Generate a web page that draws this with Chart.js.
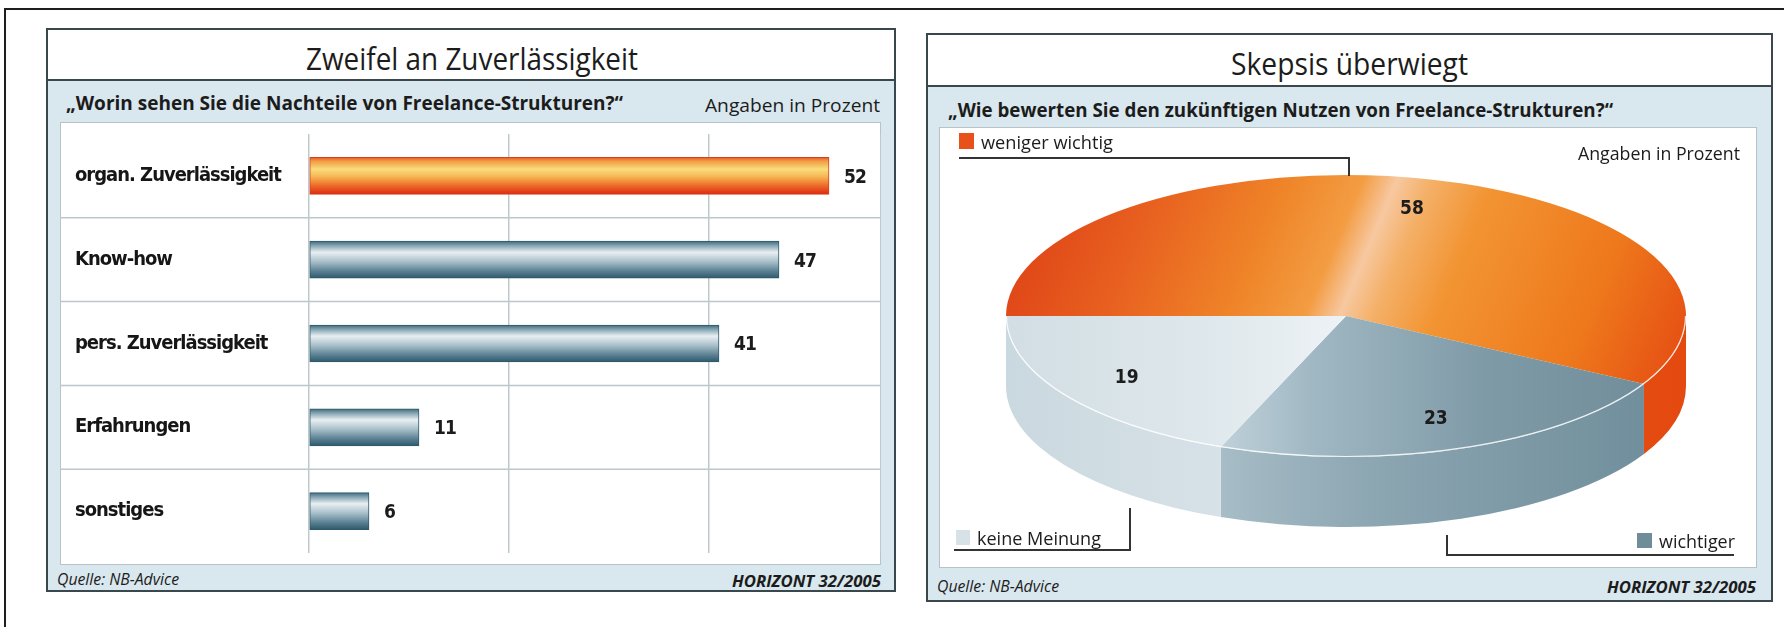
<!DOCTYPE html>
<html>
<head>
<meta charset="utf-8">
<script src="https://cdn.jsdelivr.net/npm/chart.js@4.4.1/dist/chart.umd.min.js"></script>
<style>
  html, body { margin: 0; padding: 0; background: #fff; }
  body { width: 1784px; height: 627px; position: relative; overflow: hidden; font-family: "Open Sans", sans-serif; color: #1c1c1c; }
  .a { position: absolute; box-sizing: border-box; }
  .panel { border: 2px solid #3a484e; background: #d9e7ee; }
  .head { background: #fff; border-bottom: 2px solid #3a484e; }
  .box { background: #fff; border: 1.5px solid #b7c3c8; }
  .t { position: absolute; white-space: nowrap; line-height: 1; }
</style>
</head>
<body>
<div class="a" style="left:5px;top:8px;width:1779px;height:2px;background:#1e1e1e"></div>
<div class="a" style="left:4px;top:8px;width:2px;height:619px;background:#1e1e1e"></div>

<div class="a panel" style="left:46px;top:28px;width:850px;height:564px"></div>
<div class="a head" style="left:48px;top:30px;width:846px;height:51px"></div>
<div class="a box" style="left:60px;top:122px;width:821px;height:443px"></div>
<div class="a" style="left:60px;top:122px;width:821px;height:443px"><canvas id="bars"></canvas></div>

<div class="a panel" style="left:926px;top:33px;width:847px;height:569px"></div>
<div class="a head" style="left:928px;top:35px;width:843px;height:52px"></div>
<div class="a box" style="left:939px;top:127px;width:818px;height:441px"></div>
<div class="a" style="left:939px;top:127px;width:818px;height:441px"><canvas id="pie"></canvas></div>

<script>
// left chart: "Worin sehen Sie die Nachteile von Freelance-Strukturen?"
const barCategories = ['organ. Zuverlässigkeit', 'Know-how', 'pers. Zuverlässigkeit', 'Erfahrungen', 'sonstiges'];
const barValues = [52, 47, 41, 11, 6];
const barAxisMax = 57.2;
const barGridStep = 20;

// right chart: "Wie bewerten Sie den zukünftigen Nutzen von Freelance-Strukturen?"
const pieCategories = ['weniger wichtig', 'wichtiger', 'keine Meinung'];
const pieValues = [58, 23, 19];

// pick a narrow font for the text Chart.js draws
function hasFont(name) {
  const c = document.createElement('canvas').getContext('2d');
  const s = 'organ. Zuverlässigkeit 0123';
  c.font = 'bold 40px monospace';
  const a = c.measureText(s).width;
  c.font = `bold 40px "${name}", monospace`;
  return c.measureText(s).width !== a;
}
const narrow = ['Liberation Sans Narrow', 'DejaVu Sans Condensed', 'Roboto', 'Open Sans'].find(hasFont) || 'sans-serif';
const squeeze = 1; // px taken off between letters of canvas text
const probe = document.createElement('canvas').getContext('2d');
probe.font = `bold 20px "${narrow}"`;
const perPx = probe.measureText(barCategories[0]).width / 20;
let catSize = (206 + squeeze * barCategories[0].length) / perPx;
catSize = Math.max(15, Math.min(22, catSize));

// html text squeezed to the width it has in the print
function text(str, x, y, w, size, weight, style, align) {
  const el = document.createElement('div');
  el.className = 't';
  el.textContent = str;
  el.style.font = `${style || 'normal'} ${weight} ${size}px "Open Sans"`;
  document.body.appendChild(el);
  const nat = el.getBoundingClientRect().width;
  const h = el.offsetHeight;
  const left = align === 'right' ? x - w : align === 'center' ? x - w / 2 : x;
  el.style.left = left + 'px';
  el.style.top = (y - h / 2) + 'px';
  el.style.transformOrigin = '0 50%';
  el.style.transform = `scaleX(${w / nat})`;
}
function block(x, y, w, h, color) {
  const d = document.createElement('div');
  d.className = 'a';
  d.style.cssText += `left:${x}px;top:${y}px;width:${w}px;height:${h}px;background:${color};`;
  document.body.appendChild(d);
}

text('Zweifel an Zuverlässigkeit', 472, 58, 332, 31, 400, 'normal', 'center');
text('„Worin sehen Sie die Nachteile von Freelance-Strukturen?“', 66, 103, 557, 19, 700);
text('Angaben in Prozent', 880, 105, 175, 19, 400, 'normal', 'right');
text('Quelle: NB-Advice', 57, 578, 122, 17, 400, 'italic');
text('HORIZONT 32/2005', 881, 581, 149, 16, 700, 'italic', 'right');

text('Skepsis überwiegt', 1349, 63, 237, 31, 400, 'normal', 'center');
text('„Wie bewerten Sie den zukünftigen Nutzen von Freelance-Strukturen?“', 948, 110, 665, 19, 700);
text('Angaben in Prozent', 1740, 153, 162, 18, 400, 'normal', 'right');
text('Quelle: NB-Advice', 937, 585, 122, 17, 400, 'italic');
text('HORIZONT 32/2005', 1756, 587, 149, 16, 700, 'italic', 'right');

// pie legend with its callout lines
const pieKeyColors = ['#e8521a', '#6f8c99', '#d6e2e8'];
block(959, 133, 15, 16, pieKeyColors[0]);
text(pieCategories[0], 981, 142, 132, 19, 400);
block(959, 157, 391, 2, '#333'); block(1348, 157, 2, 19, '#333');
block(1637, 533, 15, 15, pieKeyColors[1]);
text(pieCategories[1], 1659, 541, 76, 19, 400);
block(1447, 554, 287, 2, '#333'); block(1446, 535, 2, 21, '#333');
block(956, 530, 14, 15, pieKeyColors[2]);
text(pieCategories[2], 977, 538, 124, 19, 400);
block(954, 549, 177, 2, '#333'); block(1129, 508, 2, 43, '#333');

// ---------- bar chart ----------
function barFill(c) {
  const chart = c.chart;
  if (!chart.chartArea) return '#7fa0ae';
  const y = chart.scales.y.getPixelForValue(c.dataIndex);
  const g = chart.ctx.createLinearGradient(0, y - 18.5, 0, y + 18.5);
  if (c.dataIndex === 0) {
    g.addColorStop(0, '#e65a2a');
    g.addColorStop(0.1, '#f29c42');
    g.addColorStop(0.32, '#f9dc7c');
    g.addColorStop(0.52, '#f6b654');
    g.addColorStop(0.75, '#ee6e2a');
    g.addColorStop(1, '#dc2812');
  } else {
    g.addColorStop(0, '#3d6a7e');
    g.addColorStop(0.12, '#86a5b2');
    g.addColorStop(0.3, '#e8eff2');
    g.addColorStop(0.55, '#a9c0ca');
    g.addColorStop(0.8, '#5d8395');
    g.addColorStop(1, '#2d586b');
  }
  return g;
}

const tightText = {
  id: 'tightText',
  beforeDraw(chart) { chart.ctx.letterSpacing = `-${squeeze}px`; },
  afterDraw(chart) { chart.ctx.letterSpacing = '0px'; }
};

const rowLines = {
  id: 'rowLines',
  beforeDatasetsDraw(chart) {
    const y = chart.scales.y, ctx = chart.ctx;
    ctx.save();
    ctx.strokeStyle = '#bdc7cb';
    ctx.lineWidth = 1.5;
    for (let i = 0; i < barCategories.length - 1; i++) {
      const py = (y.getPixelForValue(i) + y.getPixelForValue(i + 1)) / 2;
      ctx.beginPath();
      ctx.moveTo(0, py);
      ctx.lineTo(chart.width, py);
      ctx.stroke();
    }
    ctx.restore();
  }
};

const valueLabels = {
  id: 'valueLabels',
  afterDatasetsDraw(chart) {
    const ctx = chart.ctx;
    ctx.save();
    ctx.fillStyle = '#1c1c1c';
    ctx.font = `bold 19px "${narrow}"`;
    ctx.textBaseline = 'middle';
    chart.getDatasetMeta(0).data.forEach((bar, i) => {
      ctx.fillText(String(barValues[i]), bar.x + 15, bar.y + 2);
    });
    ctx.restore();
  }
};

new Chart(document.getElementById('bars'), {
  type: 'bar',
  data: {
    labels: barCategories,
    datasets: [{
      data: barValues,
      backgroundColor: barFill,
      borderColor: (c) => c.dataIndex === 0 ? '#d8401c' : '#2f5a6c',
      borderWidth: 1,
      borderSkipped: false,
      barThickness: 37
    }]
  },
  options: {
    indexAxis: 'y',
    responsive: true,
    maintainAspectRatio: false,
    animation: false,
    layout: { padding: { left: 15, right: 0, top: 0, bottom: 0 } },
    plugins: { legend: { display: false }, tooltip: { enabled: false } },
    scales: {
      x: {
        min: 0,
        max: barAxisMax,
        ticks: { stepSize: barGridStep, display: false },
        grid: { color: '#bfc9cd', lineWidth: 1.5, drawTicks: false },
        border: { display: false }
      },
      y: {
        grid: { display: false },
        border: { display: false },
        ticks: { crossAlign: 'far', padding: 0, color: '#161616', font: { family: narrow, weight: 'bold', size: catSize } },
        afterFit(scale) { scale.width = 234; }
      }
    }
  },
  plugins: [tightText, rowLines, valueLabels]
});

// ---------- 3d pie ----------
const tilt = 141 / 340;
const depth = 70;
const R = 340;

function stops(g, list) { list.forEach(([o, c]) => g.addColorStop(o, c)); return g; }
const topStops = [
  [[0, '#e04818'], [0.15, '#e86020'], [0.33, '#ef8428'], [0.44, '#f39c42'], [0.49, '#f7c8a0'], [0.54, '#f4b068'], [0.63, '#f29432'], [0.85, '#ee781c'], [1, '#e65214']],
  [[0, '#cbdae1'], [0.3, '#c2d3db'], [0.45, '#a0b8c3'], [0.7, '#809ba8'], [1, '#6e8b98']],
  [[0, '#d2dee4'], [0.3, '#dfe8ec'], [0.5, '#edf2f5'], [0.56, '#f4f7f8'], [1, '#f4f7f8']]
];
const sideStops = [
  [[0, '#ec5e16'], [1, '#e44a10']],
  [[0, '#b3c6cf'], [0.32, '#a6bcc6'], [0.55, '#8ba5b1'], [1, '#6d8b99']],
  [[0, '#cad8df'], [0.35, '#d8e3e8'], [0.62, '#eef3f5'], [1, '#eef3f5']]
];

// gradients are built in the squashed space, tilted so the highlight runs diagonally
function pieFill(c) {
  const chart = c.chart;
  if (!chart.chartArea) return pieKeyColors[c.dataIndex];
  const cx = (chart.chartArea.left + chart.chartArea.right) / 2;
  const cy = (chart.chartArea.top + chart.chartArea.bottom) / 2;
  const dx = R * 0.985, dy = c.dataIndex === 0 ? R * 0.174 : 0;
  return stops(chart.ctx.createLinearGradient(cx - dx, cy - dy, cx + dx, cy + dy), topStops[c.dataIndex]);
}

const pie3d = {
  id: 'pie3d',
  beforeDatasetsDraw(chart) {
    const ctx = chart.ctx;
    const arcs = chart.getDatasetMeta(0).data;
    const cx = arcs[0].x, cy = arcs[0].y, rx = arcs[0].outerRadius, ry = rx * tilt;
    ctx.save();
    arcs.forEach((a, i) => {
      ctx.fillStyle = stops(ctx.createLinearGradient(cx - rx, 0, cx + rx, 0), sideStops[i]);
      for (let k = -1; k <= 2; k++) {
        const lo = Math.max(a.startAngle, 2 * Math.PI * k);
        const hi = Math.min(a.endAngle, 2 * Math.PI * k + Math.PI);
        if (hi <= lo) continue;
        ctx.beginPath();
        ctx.ellipse(cx, cy, rx, ry, 0, lo, hi, false);
        ctx.ellipse(cx, cy + depth, rx, ry, 0, hi, lo, true);
        ctx.closePath();
        ctx.fill();
      }
    });
    ctx.restore();
    ctx.save();
    ctx.translate(cx, cy);
    ctx.scale(1, tilt);
    ctx.translate(-cx, -cy);
  },
  afterDatasetsDraw(chart) {
    const ctx = chart.ctx;
    ctx.restore();
    const arcs = chart.getDatasetMeta(0).data;
    const cx = arcs[0].x, cy = arcs[0].y, rx = arcs[0].outerRadius, ry = rx * tilt;
    ctx.save();
    ctx.letterSpacing = '0px';
    ctx.strokeStyle = 'rgba(255,255,255,0.85)';
    ctx.lineWidth = 1.2;
    ctx.beginPath();
    ctx.ellipse(cx, cy, rx - 0.5, ry - 0.5, 0, 0, Math.PI, false);
    ctx.stroke();
    ctx.fillStyle = '#1c1c1c';
    ctx.font = `bold 19px "${narrow}"`;
    ctx.textAlign = 'center';
    ctx.textBaseline = 'middle';
    arcs.forEach((a, i) => {
      const mid = (a.startAngle + a.endAngle) / 2;
      ctx.fillText(String(pieValues[i]), cx + 0.78 * rx * Math.cos(mid), cy + 0.78 * ry * Math.sin(mid));
    });
    ctx.restore();
  }
};

new Chart(document.getElementById('pie'), {
  type: 'pie',
  data: {
    labels: pieCategories,
    datasets: [{ data: pieValues, backgroundColor: pieFill, borderWidth: 0, clip: false }]
  },
  options: {
    responsive: true,
    maintainAspectRatio: false,
    animation: false,
    rotation: 270,
    radius: R,
    layout: { padding: { left: 0, top: 0, right: 4, bottom: 63 } },
    plugins: { legend: { display: false }, tooltip: { enabled: false } }
  },
  plugins: [pie3d]
});
</script>
</body>
</html>
